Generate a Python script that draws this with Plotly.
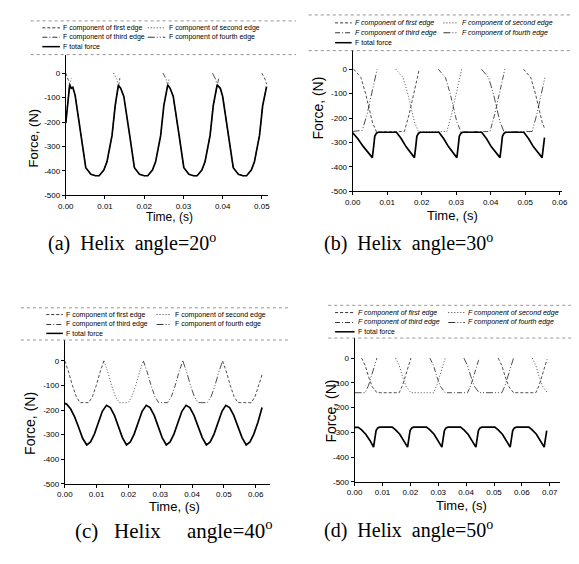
import plotly.graph_objects as go

W, H = 579, 564

# ---------------- shared labels ----------------
EDGE_NAMES = ["F component of first edge", "F component of second edge",
              "F component of third edge", "F component of fourth edge"]
TOTAL_NAME = "F total force"
Y_TICKS = [0, -100, -200, -300, -400, -500]
Y_TICK_TEXT = ["0", "-100", "-200", "-300", "-400", "-500"]
CAPTIONS = ["(a)  Helix  angle=20<sup>o</sup>", "(b)  Helix  angle=30<sup>o</sup>",
            "(c)   Helix     angle=40<sup>o</sup>", "(d)  Helix  angle=50<sup>o</sup>"]

# ---------------- (a) helix angle 20 ----------------
A_XTICKS = [0.00, 0.01, 0.02, 0.03, 0.04, 0.05]
A_TOTAL_T = [0.0000, 0.0005, 0.0010, 0.0014, 0.0018, 0.0024, 0.0039, 0.0051, 0.0064, 0.0076, 0.0085, 0.0097, 0.0105, 0.0118, 0.0126,
             0.0134, 0.0140, 0.0148, 0.0163, 0.0175, 0.0188, 0.0200, 0.0209, 0.0221, 0.0229, 0.0242, 0.0250,
             0.0260, 0.0266, 0.0274, 0.0289, 0.0301, 0.0314, 0.0326, 0.0335, 0.0347, 0.0355, 0.0368, 0.0376,
             0.0386, 0.0390, 0.0394, 0.0400, 0.0415, 0.0427, 0.0440, 0.0452, 0.0461, 0.0473, 0.0481, 0.0494, 0.0502, 0.0512]
A_TOTAL_F = [-205, -120, -47, -62, -58, -92, -255, -387, -414, -420, -420, -397, -363, -255, -133,
             -50, -62, -95, -255, -387, -414, -420, -420, -397, -363, -255, -133,
             -48, -62, -95, -255, -387, -414, -420, -420, -397, -363, -255, -133,
             -48, -55, -62, -95, -255, -387, -414, -420, -420, -397, -363, -255, -133, -55]
A_E1_T = [0.0000, 0.0006, 0.0010, 0.0014, 0.0018, 0.0024, 0.0039, 0.0051, 0.0064, 0.0076, 0.0085, 0.0097, 0.0105, 0.0118, 0.0126,
          0.0134, 0.0138, None, 0.0500, 0.0508, 0.0512]
A_E1_F = [0, -25, -47, -62, -58, -92, -255, -387, -414, -420, -420, -397, -363, -255, -133,
          -50, -20, None, 0, -25, -45]
A_E2_T = [0.0122, 0.0130, 0.0134, 0.0140, 0.0148, 0.0163, 0.0175, 0.0188, 0.0200, 0.0209, 0.0221, 0.0229, 0.0242, 0.0250, 0.0260, 0.0264]
A_E2_F = [0, -25, -48, -62, -95, -255, -387, -414, -420, -420, -397, -363, -255, -133, -48, -20]
A_E3_T = [0.0248, 0.0256, 0.0260, 0.0266, 0.0274, 0.0289, 0.0301, 0.0314, 0.0326, 0.0335, 0.0347, 0.0355, 0.0368, 0.0376, 0.0386, 0.0390]
A_E3_F = [0, -25, -48, -62, -95, -255, -387, -414, -420, -420, -397, -363, -255, -133, -48, -20]
A_E4_T = [0.0000, 0.0005, 0.0010, 0.0014, None, 0.0374, 0.0382, 0.0386, 0.0394, 0.0400, 0.0415, 0.0427, 0.0440, 0.0452, 0.0461,
          0.0473, 0.0481, 0.0494, 0.0502, 0.0512]
A_E4_F = [-205, -120, -47, -20, None, 0, -25, -48, -62, -95, -255, -387, -414, -420, -420,
          -397, -363, -255, -133, -55]

# ---------------- (b) helix angle 30 ----------------
B_XTICKS = [0.00, 0.01, 0.02, 0.03, 0.04, 0.05, 0.06]
B_TOTAL_T = [0.0000, 0.0015, 0.0030, 0.0045, 0.0057, 0.0061, 0.0064, 0.0069, 0.0074,
             0.0127, 0.0141, 0.0155, 0.0168, 0.0179, 0.0183, 0.0186, 0.0191, 0.0196,
             0.0250, 0.0264, 0.0278, 0.0291, 0.0302, 0.0306, 0.0309, 0.0314, 0.0319,
             0.0374, 0.0388, 0.0402, 0.0415, 0.0427, 0.0431, 0.0434, 0.0439, 0.0444,
             0.0496, 0.0510, 0.0524, 0.0537, 0.0549, 0.0553, 0.0556]
B_TOTAL_F = [-260, -285, -315, -342, -362, -315, -275, -262, -258,
             -258, -285, -318, -343, -362, -315, -275, -262, -258,
             -258, -285, -318, -343, -362, -315, -275, -262, -258,
             -258, -285, -318, -343, -362, -315, -275, -262, -258,
             -258, -285, -318, -343, -362, -315, -280]
B_E1_T = [0.0003, 0.0024, 0.0038, 0.0047, 0.0057, 0.0069, 0.0150, 0.0164, 0.0174, 0.0183, 0.0191, 0.0193,
          None, 0.0495, 0.0516, 0.0530, 0.0539, 0.0549, 0.0557]
B_E1_F = [0, -34, -102, -163, -216, -257, -255, -183, -116, -61, -14, 0,
          None, 0, -34, -102, -163, -216, -245]
B_E2_T = [0.0125, 0.0146, 0.0160, 0.0169, 0.0179, 0.0191, 0.0273, 0.0287, 0.0297, 0.0306, 0.0314, 0.0316]
B_E2_F = [0, -34, -102, -163, -216, -257, -255, -183, -116, -61, -14, 0]
B_E3_T = [0.0248, 0.0269, 0.0283, 0.0292, 0.0302, 0.0314, 0.0398, 0.0412, 0.0422, 0.0431, 0.0439, 0.0441]
B_E3_F = [0, -34, -102, -163, -216, -257, -255, -183, -116, -61, -14, 0]
B_E4_T = [0.0000, 0.0028, 0.0042, 0.0052, 0.0061, 0.0069, 0.0071,
          None, 0.0373, 0.0394, 0.0408, 0.0417, 0.0427, 0.0439, 0.0520, 0.0534, 0.0544, 0.0553, 0.0557]
B_E4_F = [-255, -250, -183, -116, -61, -14, 0,
          None, 0, -34, -102, -163, -216, -257, -255, -183, -116, -61, -35]

# ---------------- (c) helix angle 40 ----------------
C_XTICKS = [0.00, 0.01, 0.02, 0.03, 0.04, 0.05, 0.06]
C_TOTAL_T = [0.0000, 0.0006, 0.0018, 0.0031, 0.0044, 0.0056, 0.0069, 0.0081, 0.0093, 0.0106, 0.0118, 0.0131,
             0.0143, 0.0156, 0.0169, 0.0181, 0.0194, 0.0206, 0.0218, 0.0231, 0.0243, 0.0256,
             0.0268, 0.0281, 0.0294, 0.0306, 0.0319, 0.0331, 0.0343, 0.0356, 0.0368, 0.0381,
             0.0393, 0.0406, 0.0419, 0.0432, 0.0445, 0.0457, 0.0469, 0.0482, 0.0494, 0.0506,
             0.0518, 0.0531, 0.0544, 0.0557, 0.0570, 0.0582, 0.0594, 0.0607, 0.0620]
C_TOTAL_F = [-173, -176, -195, -228, -272, -315, -342, -330, -298, -250, -205, -181,
             -190, -222, -268, -312, -342, -330, -298, -250, -205, -181,
             -190, -222, -268, -312, -342, -330, -298, -250, -205, -181,
             -190, -222, -268, -312, -342, -330, -298, -250, -205, -181,
             -190, -222, -268, -312, -342, -330, -298, -250, -190]
C_E1_T = [0.0000, 0.0012, 0.0024, 0.0036, 0.0048, 0.0075, 0.0087, 0.0099, 0.0111, 0.0123,
          None, 0.0496, 0.0508, 0.0520, 0.0532, 0.0544, 0.0586, 0.0598, 0.0610, 0.0620]
C_E1_F = [0, -45, -100, -145, -170, -170, -145, -100, -45, 0,
          None, 0, -45, -100, -145, -170, -170, -145, -100, -56]
C_E2_T = [0.0123, 0.0135, 0.0147, 0.0159, 0.0171, 0.0199, 0.0211, 0.0223, 0.0235, 0.0247]
C_E2_F = [0, -45, -100, -145, -170, -170, -145, -100, -45, 0]
C_E3_T = [0.0247, 0.0259, 0.0271, 0.0283, 0.0295, 0.0323, 0.0335, 0.0347, 0.0359, 0.0371]
C_E3_F = [0, -45, -100, -145, -170, -170, -145, -100, -45, 0]
C_E4_T = [0.0371, 0.0383, 0.0395, 0.0407, 0.0419, 0.0448, 0.0460, 0.0472, 0.0484, 0.0496]
C_E4_F = [0, -45, -100, -145, -170, -170, -145, -100, -45, 0]

# ---------------- (d) helix angle 50 ----------------
D_XTICKS = [0.00, 0.01, 0.02, 0.03, 0.04, 0.05, 0.06, 0.07]
D_TOTAL_T = [0.0000, 0.0013, 0.0025, 0.0040, 0.0055, 0.0068, 0.0072, 0.0077, 0.0083, 0.0090,
             0.0135, 0.0147, 0.0162, 0.0177, 0.0190, 0.0194, 0.0199, 0.0205, 0.0212,
             0.0258, 0.0270, 0.0285, 0.0300, 0.0313, 0.0317, 0.0322, 0.0328, 0.0335,
             0.0380, 0.0392, 0.0407, 0.0422, 0.0435, 0.0439, 0.0444, 0.0450, 0.0457,
             0.0503, 0.0515, 0.0530, 0.0545, 0.0558, 0.0562, 0.0567, 0.0573, 0.0580,
             0.0625, 0.0637, 0.0652, 0.0667, 0.0680, 0.0684, 0.0689]
D_TOTAL_F = [-280, -280, -290, -308, -333, -360, -330, -293, -282, -279,
             -279, -290, -308, -333, -360, -330, -293, -282, -279,
             -279, -290, -308, -333, -360, -330, -293, -282, -279,
             -279, -290, -308, -333, -360, -330, -293, -282, -279,
             -279, -290, -308, -333, -360, -330, -293, -282, -279,
             -279, -290, -308, -333, -360, -330, -293]
D_E1_T = [0.0025, 0.0038, 0.0050, 0.0063, 0.0080, 0.0160, 0.0172, 0.0184, 0.0194, 0.0202,
          None, 0.0515, 0.0528, 0.0540, 0.0553, 0.0570, 0.0650, 0.0662, 0.0674, 0.0684, 0.0690]
D_E1_F = [0, -30, -75, -115, -140, -140, -110, -65, -25, 0,
          None, 0, -30, -75, -115, -140, -140, -110, -65, -25, -5]
D_E2_T = [0.0147, 0.0160, 0.0172, 0.0185, 0.0202, 0.0283, 0.0295, 0.0307, 0.0317, 0.0325,
          None, 0.0637, 0.0650, 0.0662, 0.0675, 0.0690]
D_E2_F = [0, -30, -75, -115, -140, -140, -110, -65, -25, 0,
          None, 0, -30, -75, -115, -138]
D_E3_T = [0.0270, 0.0283, 0.0295, 0.0308, 0.0325, 0.0405, 0.0417, 0.0429, 0.0439, 0.0447]
D_E3_F = [0, -30, -75, -115, -140, -140, -110, -65, -25, 0]
D_E4_T = [0.0000, 0.0038, 0.0050, 0.0062, 0.0072, 0.0080,
          None, 0.0392, 0.0405, 0.0417, 0.0430, 0.0447, 0.0528, 0.0540, 0.0552, 0.0562, 0.0570]
D_E4_F = [-140, -140, -110, -65, -25, 0,
          None, 0, -30, -75, -115, -140, -140, -110, -65, -25, 0]

# ---------------- styling / layout (pixels) ----------------
EDGE_DASH = ["3px,2px", "1px,2px", "5px,2px,1px,2px", "7px,2px,1px,2px,1px,2px"]
FONT = "Arial, Liberation Sans, sans-serif"
SERIF = "Times New Roman, Liberation Serif, serif"

PANELS = [
    dict(total=(A_TOTAL_T, A_TOTAL_F),
         edges=[(A_E1_T, A_E1_F), (A_E2_T, A_E2_F), (A_E3_T, A_E3_F), (A_E4_T, A_E4_F)],
         xticks=A_XTICKS, xr=[0, 0.0515], yr=[-500, 76], box=(51, 258, 47, 189), italic=False,
         leg=dict(top=13, bot=47, lx=(15, 287), rows=(20, 29.5, 39), c1=(27, 45), c2=(135, 153)),
         ylab=(18, 131, 13), xlab=(157, 211, 12), cap=(31, 237, 20)),
    dict(total=(B_TOTAL_T, B_TOTAL_F),
         edges=[(B_E1_T, B_E1_F), (B_E2_T, B_E2_F), (B_E3_T, B_E3_F), (B_E4_T, B_E4_F)],
         xticks=B_XTICKS, xr=[0, 0.0608], yr=[-500, 80], box=(345, 560, 42, 185), italic=True,
         leg=dict(top=7, bot=43, lx=(300, 579), rows=(15, 25, 35), c1=(327, 344), c2=(438, 453)),
         ylab=(310, 101, 14), xlab=(447, 209, 13), cap=(314, 237, 20)),
    dict(total=(C_TOTAL_T, C_TOTAL_F),
         edges=[(C_E1_T, C_E1_F), (C_E2_T, C_E2_F), (C_E3_T, C_E3_F), (C_E4_T, C_E4_F)],
         xticks=C_XTICKS, xr=[0, 0.0644], yr=[-500, 85], box=(50, 260, 335, 480), italic=False,
         leg=dict(top=302.5, bot=335, lx=(5, 280), rows=(309.3, 319.3, 328.3), c1=(31, 48), c2=(144, 159)),
         ylab=(15, 419, 14), xlab=(162, 503, 13), cap=(58, 526, 21)),
    dict(total=(D_TOTAL_T, D_TOTAL_F),
         edges=[(D_E1_T, D_E1_F), (D_E2_T, D_E2_F), (D_E3_T, D_E3_F), (D_E4_T, D_E4_F)],
         xticks=D_XTICKS, xr=[0, 0.0735], yr=[-500, 81], box=(347, 557, 333, 478), italic=True,
         leg=dict(top=300, bot=333, lx=(320, 579), rows=(307.3, 317.3, 326.7), c1=(327, 347), c2=(443, 460)),
         ylab=(323, 407, 14), xlab=(457, 502, 13), cap=(314, 526, 20)),
]


def px(x):
    return x / W


def py(y):
    return 1 - y / H


fig = go.Figure()
shapes, annotations = [], []

for i, p in enumerate(PANELS):
    sfx = "" if i == 0 else str(i + 1)
    xa, ya = "x" + sfx, "y" + sfx
    for k, (t, f) in enumerate(p["edges"]):
        fig.add_trace(go.Scatter(x=t, y=f, mode="lines", name=EDGE_NAMES[k], showlegend=False,
                                 connectgaps=False, hoverinfo="skip",
                                 line=dict(color="#222", width=0.8, dash=EDGE_DASH[k]),
                                 xaxis=xa, yaxis=ya))
    t, f = p["total"]
    fig.add_trace(go.Scatter(x=t, y=f, mode="lines", name=TOTAL_NAME, showlegend=False,
                             hoverinfo="skip", line=dict(color="black", width=1.7),
                             xaxis=xa, yaxis=ya))
    x0, x1, y0, y1 = p["box"]
    common = dict(showline=True, linecolor="black", linewidth=1, ticks="outside", ticklen=3,
                  tickwidth=1, tickcolor="black", showgrid=False, zeroline=False,
                  tickfont=dict(family=FONT, size=8, color="black"), mirror=False)
    fig.layout["xaxis" + sfx] = dict(domain=[px(x0), px(x1)], range=p["xr"], anchor=ya,
                                     tickvals=p["xticks"], ticktext=["%.2f" % v for v in p["xticks"]],
                                     **common)
    fig.layout["yaxis" + sfx] = dict(domain=[py(y1), py(y0)], range=p["yr"], anchor=xa,
                                     tickvals=Y_TICKS, ticktext=Y_TICK_TEXT, **common)

    # legend box (drawn manually, dotted top/bottom rules)
    L = p["leg"]
    for yy in (L["top"], L["bot"]):
        shapes.append(dict(type="line", xref="paper", yref="paper", x0=px(L["lx"][0]), x1=px(L["lx"][1]),
                           y0=py(yy), y1=py(yy), line=dict(color="#777", width=0.8, dash="dot")))
    entries = [(0, 0, EDGE_DASH[0], 0.8, EDGE_NAMES[0]), (0, 1, EDGE_DASH[1], 0.8, EDGE_NAMES[1]),
               (1, 0, EDGE_DASH[2], 0.8, EDGE_NAMES[2]), (1, 1, EDGE_DASH[3], 0.8, EDGE_NAMES[3]),
               (2, 0, "solid", 1.5, TOTAL_NAME)]
    for r, c, dash, wdt, name in entries:
        sx = L["c1"] if c == 0 else L["c2"]
        yy = L["rows"][r]
        shapes.append(dict(type="line", xref="paper", yref="paper", x0=px(sx[0]), x1=px(sx[1]),
                           y0=py(yy), y1=py(yy), line=dict(color="black", width=wdt, dash=dash)))
        label = "<i>%s</i>" % name if p["italic"] and r < 2 else name
        annotations.append(dict(text=label, xref="paper", yref="paper", x=px(sx[1] + 1.5), y=py(yy),
                                xanchor="left", yanchor="middle", showarrow=False,
                                font=dict(family=FONT, size=7, color="black")))
    # axis titles
    lx, ly, ls = p["ylab"]
    annotations.append(dict(text="Force, (N)", xref="paper", yref="paper", x=px(lx), y=py(ly),
                            textangle=-90, showarrow=False, xanchor="center", yanchor="middle",
                            font=dict(family=FONT, size=ls, color="black")))
    tx, ty, ts = p["xlab"]
    annotations.append(dict(text="Time, (s)", xref="paper", yref="paper", x=px(tx), y=py(ty),
                            showarrow=False, xanchor="center", yanchor="middle",
                            font=dict(family=FONT, size=ts, color="black")))
    cx, cy, cs = p["cap"]
    annotations.append(dict(text=CAPTIONS[i], xref="paper", yref="paper", x=px(cx), y=py(cy),
                            showarrow=False, xanchor="left", yanchor="middle",
                            font=dict(family=SERIF, size=cs, color="black")))

fig.update_layout(width=W, height=H, margin=dict(l=0, r=0, t=0, b=0),
                  paper_bgcolor="white", plot_bgcolor="white", showlegend=False,
                  shapes=shapes, annotations=annotations)

fig.write_html("out.html")
